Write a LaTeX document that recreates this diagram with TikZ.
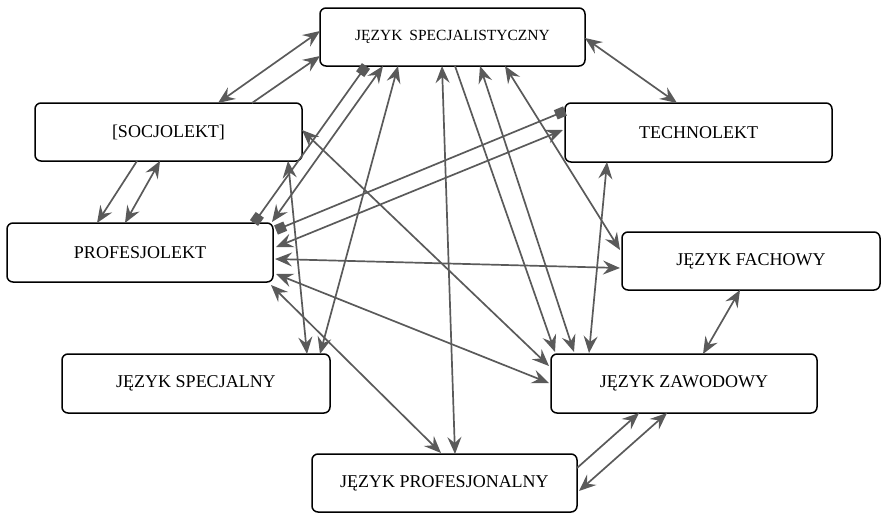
\documentclass[tikz,border=0pt]{standalone}
\usepackage{fontspec}
\setmainfont{Liberation Serif}
\usetikzlibrary{arrows.meta,calc}
\definecolor{linegray}{HTML}{5A5A5A}
\begin{document}
\begin{tikzpicture}[x=1pt,y=-1pt,
  box/.style={draw=black, line width=1.5pt, rounded corners=6pt, fill=white,
    inner sep=0pt, outer sep=0pt, font=\fontsize{18}{20}\selectfont},
  con/.style={draw=linegray, line width=1.7pt},
  >={Stealth[length=17pt,width=14pt,inset=6pt]},
  dia/.style={con, {Square[length=10pt,width=10pt]}-{Square[length=10pt,width=10pt]}}
]
\useasboundingbox (0,0) rectangle (881,514);

% nodes
\node[box, minimum width=265pt, minimum height=58pt, font=\fontsize{15.5}{18}\selectfont] (js) at (452.5,37) {JĘZYK\hspace{7pt}SPECJALISTYCZNY};
\node[box, minimum width=267pt, minimum height=58pt] (soc) at (168.5,132) {[SOCJOLEKT]};
\node[box, minimum width=266pt, minimum height=59pt] (pro) at (140,252.5) {PROFESJOLEKT};
\node[box, minimum width=267pt, minimum height=59pt] (tech) at (698.5,132.5) {TECHNOLEKT};
\node[box, minimum width=258pt, minimum height=58pt] (fach) at (751,261) {JĘZYK FACHOWY};
\node[box, minimum width=268pt, minimum height=59pt] (spec) at (196,383.5) {JĘZYK SPECJALNY};
\node[box, minimum width=266pt, minimum height=59pt] (zaw) at (684,383.5) {JĘZYK ZAWODOWY};
\node[box, minimum width=265pt, minimum height=58pt] (prof) at (444.5,483) {JĘZYK PROFESJONALNY};

% connectors
\draw[con,<->] ($(soc.north west)+(183,0)$) -- ($(js.north west)+(0,23)$);
\draw[con,->]  ($(soc.north west)+(217,0)$) -- ($(js.north west)+(0,48)$);
\draw[con,<->] ($(js.north west)+(265,30)$) -- ($(tech.north west)+(112,0)$);
\draw[con,->]  ($(soc.north west)+(102,58)$) -- ($(pro.north west)+(90,0)$);
\draw[con,<->] ($(pro.north west)+(118,0)$) -- ($(soc.north west)+(125,58)$);
\draw[dia]     ($(js.north west)+(46,58)$) -- ($(pro.north west)+(247,0)$);
\draw[con,<->] ($(js.north west)+(63,58)$) -- ($(pro.north west)+(265,-1)$);
\draw[con,<->] ($(js.north west)+(78,58)$) -- ($(spec.north west)+(258,0)$);
\draw[con,<->] ($(soc.north west)+(253,58)$) -- ($(spec.north west)+(245,0)$);
\draw[con,<->] ($(js.north west)+(122,58)$) -- ($(prof.north west)+(143,0)$);
\draw[con,->]  ($(js.north west)+(135,58)$) -- ($(zaw.north west)+(4,-2)$);
\draw[con,<->] ($(js.north west)+(160,58)$) -- ($(zaw.north west)+(23,-2)$);
\draw[con,<->] ($(tech.north west)+(42,59)$) -- ($(zaw.north west)+(38,-1)$);
\draw[con,<->] ($(js.north west)+(185,58)$) -- ($(fach.north west)+(-2,18)$);
\draw[con,<->] ($(soc.north west)+(267,27)$) -- ($(zaw.north west)+(-2,12)$);
\draw[dia]     ($(tech.north west)+(0,8)$) -- ($(pro.north west)+(269,7)$);
\draw[con,<->] ($(tech.north west)+(-2,27)$) -- ($(pro.north west)+(269,24)$);
\draw[con,<->] ($(pro.north west)+(268,36)$) -- ($(fach.north west)+(-2,36)$);
\draw[con,<->] ($(pro.north west)+(269,51)$) -- ($(zaw.north west)+(-2,29)$);
\draw[con,<->] ($(pro.north west)+(264,62)$) -- ($(prof.north west)+(129,-1)$);
\draw[con,<->] ($(zaw.north west)+(152,0)$) -- ($(fach.north west)+(118,58)$);
\draw[con,->]  ($(prof.north west)+(265,14)$) -- ($(zaw.north west)+(88,59)$);
\draw[con,<->] ($(prof.north west)+(267,37)$) -- ($(zaw.north west)+(116,59)$);
\end{tikzpicture}
\end{document}
